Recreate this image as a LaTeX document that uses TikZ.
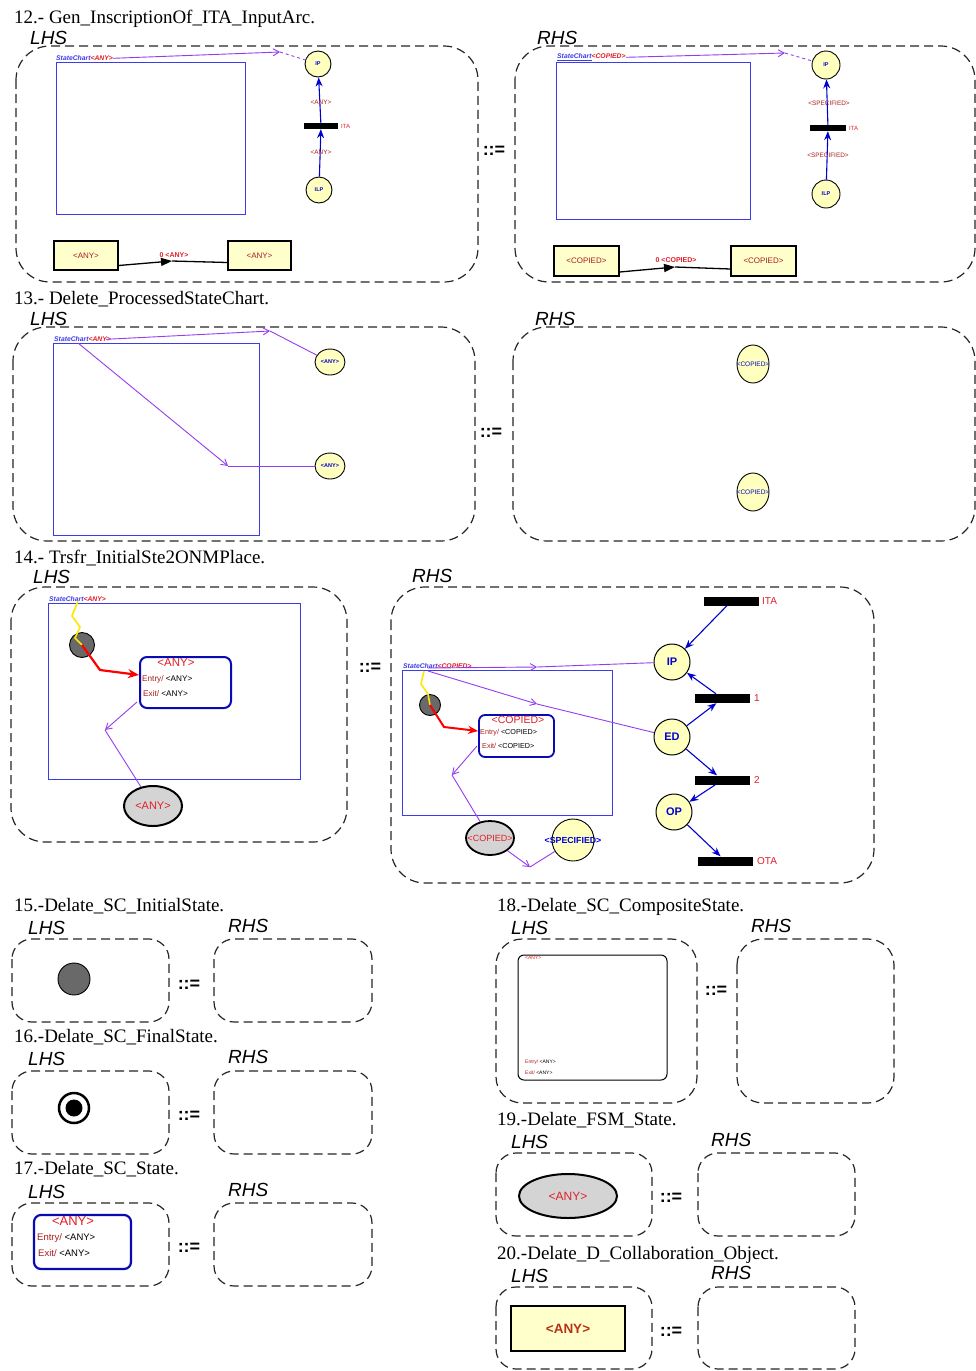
\documentclass[tikz,border=0pt]{standalone}
\usepackage{fontspec}
\setmainfont{Liberation Serif}
\setsansfont{Liberation Sans}
\usetikzlibrary{arrows.meta,shapes.geometric}

\definecolor{placefill}{RGB}{255,255,190}
\definecolor{objfill}{RGB}{255,255,204}
\definecolor{arcpurple}{RGB}{150,60,240}
\definecolor{arcblue}{RGB}{0,0,210}
\definecolor{scblue}{RGB}{60,60,235}
\definecolor{labred}{RGB}{225,30,40}
\definecolor{darkred}{RGB}{170,30,30}
\definecolor{initgray}{RGB}{105,105,105}
\definecolor{fsmgray}{RGB}{212,212,212}
\definecolor{stateblue}{RGB}{10,10,180}

\tikzset{
  x=1pt, y=-1pt,
  rulebox/.style={draw=black!85, line width=1.2pt, dash pattern=on 9pt off 5pt, rounded corners=34pt},
  smallbox/.style={draw=black!85, line width=1.2pt, dash pattern=on 9pt off 5pt, rounded corners=20pt},
  title/.style={anchor=base west, inner sep=0pt, font=\fontsize{19}{19}\selectfont\rmfamily},
  side/.style={anchor=base west, inner sep=0pt, font=\fontsize{19}{19}\selectfont\sffamily\itshape},
  produces/.style={inner sep=0pt, font=\fontsize{18}{18}\selectfont\sffamily\bfseries},
  screct/.style={draw=scblue, line width=0.9pt, inner sep=0pt},
  sclabel/.style={anchor=south west, inner sep=0pt, font=\fontsize{6.8}{7}\selectfont\sffamily\bfseries\itshape},
  place/.style={circle, draw=black, fill=placefill, line width=0.9pt, inner sep=0pt, text=arcblue,
    font=\fontsize{5.5}{6}\selectfont\sffamily\bfseries},
  bigplace/.style={circle, draw=black, fill=placefill, line width=1pt, inner sep=0pt, text=arcblue,
    font=\fontsize{11}{12}\selectfont\sffamily\bfseries, minimum size=36pt},
  tbar/.style={fill=black, inner sep=0pt},
  tinylab/.style={inner sep=0pt, font=\fontsize{6.4}{7}\selectfont\sffamily, text=darkred},
  barlab/.style={anchor=west, inner sep=0pt, font=\fontsize{10}{11}\selectfont\sffamily, text=labred},
  objbox/.style={draw=black, fill=objfill, line width=1.3pt, inner sep=0pt, text=darkred,
    font=\fontsize{8}{9}\selectfont\sffamily},
  overtext/.style={inner sep=0pt},
  purp/.style={draw=arcpurple, line width=0.9pt},
  bluearc/.style={draw=arcblue, line width=1.1pt},
  parrow/.style={-{Straight Barb[length=6pt,width=7pt]}},
  barrow/.style={-{Stealth[length=9pt,width=7pt]}},
  initstate/.style={circle, draw=black, fill=initgray, line width=0.9pt, inner sep=0pt},
  scstate/.style={draw=stateblue, line width=2pt, rounded corners=7pt, fill=white, inner sep=0pt},
  fsmstate/.style={ellipse, draw=black, fill=fsmgray, line width=2pt, inner sep=0pt},
}

\begin{document}
\begin{tikzpicture}
\useasboundingbox[fill=white] (0,0) rectangle (976,1371);

% ===================== 12 =====================
\node[title] (t12) at (14,23) {12.- Gen\_InscriptionOf\_ITA\_InputArc.};
\node[side] (l12) at (30,44) {LHS};
\node[side] (r12) at (537,44) {RHS};
\draw[rulebox] (16,46) rectangle (478,282);
\draw[rulebox] (515,46) rectangle (975,282);
\node[produces] (p12) at (494,151) {::=};

% left side
\node[screct, minimum width=189pt, minimum height=152pt] (sc12l) at (150.5,138) {};
\node[sclabel] (sc12lt) at (56,61) {\textcolor{scblue}{StateChart}\textcolor{labred}{<ANY>}};
\node[place, minimum size=26pt] (ip12l) at (318,64) {IP};
\node[tbar, minimum width=34pt, minimum height=6pt] (ita12l) at (321,126) {};
\node[barlab, font=\fontsize{6}{7}\selectfont\sffamily] (ita12lt) at (341,126) {ITA};
\node[place, minimum size=26pt] (ilp12l) at (319,190) {ILP};
\coordinate (a12l) at (280,52);
\draw[purp, parrow] (sc12lt.east) -- (a12l);
\draw[purp, dashed] (a12l) -- (ip12l);
\draw[bluearc, barrow] (ilp12l) -- (ita12l);
\draw[bluearc, barrow] (ita12l) -- (ip12l);
\node[tinylab] (w12la) at (321,102) {<ANY>};
\node[tinylab] (w12lb) at (321,152) {<ANY>};
\node[objbox, minimum width=64pt, minimum height=29pt] (o12la) at (86,255.5) {<ANY>};
\node[objbox, minimum width=63pt, minimum height=29pt] (o12lb) at (259.5,255.5) {<ANY>};
\coordinate (m12l) at (172,261);
\draw[line width=1.3pt, -{Triangle[length=11pt,width=8pt]}] ([yshift=-10pt]o12la.east) -- (m12l);
\draw[line width=1.3pt] (m12l) -- ([yshift=-7pt]o12lb.west);
\node[tinylab, text=labred, font=\fontsize{7}{8}\selectfont\sffamily\bfseries] (w12lc) at (174,255) {0 <ANY>};

% right side
\node[screct, minimum width=194pt, minimum height=157pt] (sc12r) at (653,140.5) {};
\node[sclabel] (sc12rt) at (557,61) {\textcolor{scblue}{\underline{StateChart}}\textcolor{labred}{<COPIED>}};
\node[place, minimum size=28pt] (ip12r) at (826,65) {IP};
\node[tbar, minimum width=36pt, minimum height=6pt] (ita12r) at (828,128) {};
\node[barlab, font=\fontsize{6}{7}\selectfont\sffamily] (ita12rt) at (849,128) {ITA};
\node[place, minimum size=28pt] (ilp12r) at (826,194) {ILP};
\coordinate (a12r) at (785,53);
\draw[purp, parrow] (sc12rt.east) -- (a12r);
\draw[purp, dashed] (a12r) -- (ip12r);
\draw[bluearc, barrow] (ilp12r) -- (ita12r);
\draw[bluearc, barrow] (ita12r) -- (ip12r);
\node[tinylab] (w12ra) at (829,103) {<SPECIFIED>};
\node[tinylab] (w12rb) at (828,155) {<SPECIFIED>};
\node[objbox, minimum width=65pt, minimum height=30pt] (o12ra) at (586.5,261) {<COPIED>};
\node[objbox, minimum width=65pt, minimum height=30pt] (o12rb) at (763.5,261) {<COPIED>};
\coordinate (m12r) at (675,267);
\draw[line width=1.3pt, -{Triangle[length=11pt,width=8pt]}] ([yshift=-11pt]o12ra.east) -- (m12r);
\draw[line width=1.3pt] (m12r) -- ([yshift=-8pt]o12rb.west);
\node[tinylab, text=labred, font=\fontsize{7}{8}\selectfont\sffamily\bfseries] (w12rc) at (676,260) {0 <COPIED>};

% ===================== 13 =====================
\node[title] (t13) at (14,304) {13.- Delete\_ProcessedStateChart.};
\node[side] (l13) at (30,325) {LHS};
\node[side] (r13) at (535,325) {RHS};
\draw[rulebox] (13,327) rectangle (475,541);
\draw[rulebox] (513,327) rectangle (975,541);
\node[produces] (p13) at (491,433) {::=};

\node[screct, minimum width=206pt, minimum height=192pt] (sc13) at (156,439) {};
\node[sclabel] (sc13t) at (54,342) {\textcolor{scblue}{StateChart}\textcolor{labred}{<ANY>}};
\node[place, minimum width=30pt, minimum height=26pt, ellipse] (any13a) at (330,362) {};
\node[overtext, text=arcblue, font=\fontsize{5.5}{6}\selectfont\sffamily\bfseries] at (any13a) {<ANY>};
\node[place, minimum width=30pt, minimum height=26pt, ellipse] (any13b) at (330,466) {};
\node[overtext, text=arcblue, font=\fontsize{5.5}{6}\selectfont\sffamily\bfseries] at (any13b) {<ANY>};
\coordinate (a13a) at (270,331);
\coordinate (a13b) at (228,466);
\draw[purp, parrow] ([xshift=-5pt]sc13t.east) -- (a13a);
\draw[purp] (a13a) -- (any13a);
\draw[purp, parrow] (78,343) -- (a13b);
\draw[purp] (a13b) -- (any13b);

\node[place, ellipse, minimum width=32pt, minimum height=38pt] (cp13a) at (753,364) {};
\node[overtext, text=arcblue, font=\fontsize{6.5}{7}\selectfont\sffamily] at (cp13a) {<COPIED>};
\node[place, ellipse, minimum width=32pt, minimum height=38pt] (cp13b) at (753,492) {};
\node[overtext, text=arcblue, font=\fontsize{6.5}{7}\selectfont\sffamily] at (cp13b) {<COPIED>};

% ===================== 14 =====================
\node[title] (t14) at (14,563) {14.- Trsfr\_InitialSte2ONMPlace.};
\node[side] (l14) at (33,583) {LHS};
\node[side] (r14) at (412,582) {RHS};
\draw[rulebox] (11,587) rectangle (347,842);
\draw[rulebox] (391,587) rectangle (874,883);
\node[produces] (p14) at (370,668) {::=};

% left side
\node[screct, minimum width=252pt, minimum height=176pt] (sc14l) at (174,691) {};
\node[sclabel] (sc14lt) at (49,602) {\textcolor{scblue}{StateChart}\textcolor{labred}{<ANY>}};
\node[initstate, minimum size=25pt] (in14l) at (82,645) {};
\node[scstate, minimum width=91pt, minimum height=51pt] (st14l) at (185.5,682.5) {};
\node[overtext, text=labred, font=\fontsize{11.5}{12}\selectfont\sffamily] (st14ln) at (176,663) {<ANY>};
\node[anchor=west, inner sep=0pt, font=\fontsize{8.2}{9}\selectfont\sffamily] (st14le) at (142,679)
  {\textcolor{darkred}{Entry/} <ANY>};
\node[anchor=west, inner sep=0pt, font=\fontsize{8.2}{9}\selectfont\sffamily] (st14lx) at (143,694)
  {\textcolor{darkred}{Exit/} <ANY>};
\node[fsmstate, minimum width=58pt, minimum height=40pt] (fs14l) at (153,806) {};
\node[overtext, text=labred, font=\fontsize{11}{12}\selectfont\sffamily] at (fs14l) {<ANY>};
\draw[yellow!90!orange, line width=1.6pt] (78,601) -- (72,616) -- (80,627) -- (75,638) -- (in14l.center);
\draw[red, line width=2.2pt, -{Stealth[length=11pt,width=9pt]}]
  (in14l.center) -- (100,670) -- (st14l.west |- 0,675);
\coordinate (a14l) at (105,730);
\draw[purp, parrow] (137,702) -- (a14l);
\draw[purp] (a14l) -- (fs14l);

% right side
\node[screct, minimum width=210pt, minimum height=145pt] (sc14r) at (507,742.5) {};
\node[sclabel] (sc14rt) at (403,669) {\textcolor{scblue}{StateChart}\textcolor{labred}{<COPIED>}};
\node[initstate, minimum size=21pt] (in14r) at (430,705) {};
\node[scstate, line width=1.8pt, rounded corners=6pt, minimum width=75pt, minimum height=42pt] (st14r) at (516.5,736) {};
\node[overtext, text=labred, font=\fontsize{10.5}{11}\selectfont\sffamily] (st14rn) at (518,719.5) {<COPIED>};
\node[anchor=west, inner sep=0pt, font=\fontsize{7.2}{8}\selectfont\sffamily] (st14re) at (480,733)
  {\textcolor{darkred}{Entry/} <COPIED>};
\node[anchor=west, inner sep=0pt, font=\fontsize{7.2}{8}\selectfont\sffamily] (st14rx) at (482,745.5)
  {\textcolor{darkred}{Exit/} <COPIED>};
\node[fsmstate, line width=1.8pt, minimum width=48pt, minimum height=34pt] (fs14r) at (490,838) {};
\node[overtext, text=labred, font=\fontsize{9}{10}\selectfont\sffamily] at (fs14r) {<COPIED>};
\node[place, minimum size=42pt] (sp14) at (573,840) {};
\node[overtext, text=arcblue, font=\fontsize{8.8}{9}\selectfont\sffamily\bfseries] at (sp14) {<SPECIFIED>};
\draw[yellow!90!orange, line width=1.6pt] (424,671) -- (421,684) -- (428,694) -- (in14r.center);
\draw[red, line width=2pt, -{Stealth[length=10pt,width=8pt]}]
  (in14r.center) -- (444,727) -- (st14r.west |- 0,731);
\coordinate (a14ra) at (452,775);
\draw[purp, parrow] (477,746) -- (a14ra);
\draw[purp] (a14ra) -- (fs14r);
\coordinate (a14rb) at (530,867);
\draw[purp, parrow] (fs14r) -- (a14rb);
\draw[purp] (a14rb) -- (sp14);

% net places and transitions
\node[bigplace] (ip14) at (672,662) {IP};
\node[bigplace] (ed14) at (672,737) {ED};
\node[bigplace] (op14) at (674,812) {OP};
\node[tbar, minimum width=55pt, minimum height=9pt] (ita14) at (731.5,601) {};
\node[tbar, minimum width=55pt, minimum height=9pt] (t114) at (722.5,698.5) {};
\node[tbar, minimum width=55pt, minimum height=9pt] (t214) at (722.5,780) {};
\node[tbar, minimum width=55pt, minimum height=9pt] (ota14) at (725.5,861) {};
\node[barlab] (ita14t) at (762,601) {ITA};
\node[barlab] (t114t) at (754,698) {1};
\node[barlab] (t214t) at (754,780) {2};
\node[barlab] (ota14t) at (757,861) {OTA};
\coordinate (a14rc) at (537,667);
\coordinate (a14rd) at (537,704);
\draw[purp, parrow] (428,668) -- (a14rc);
\draw[purp] (a14rc) -- (ip14);
\draw[purp, parrow] (428,671) -- (a14rd);
\draw[purp] (a14rd) -- (ed14);
\draw[bluearc, barrow] (ita14) -- (ip14);
\draw[bluearc, barrow] (t114) -- (ip14);
\draw[bluearc, barrow] (ed14) -- (t114);
\draw[bluearc, barrow] (ed14) -- (t214);
\draw[bluearc, barrow] (t214) -- (op14);
\draw[bluearc, barrow] (op14) -- (ota14);

% ===================== 15 =====================
\node[title] (t15) at (14,911) {15.-Delate\_SC\_InitialState.};
\node[side] (l15) at (28,934) {LHS};
\node[side] (r15) at (228,932) {RHS};
\draw[smallbox] (12,939) rectangle (169,1022);
\draw[smallbox] (214,939) rectangle (372,1022);
\node[produces] (p15) at (189,985) {::=};
\node[initstate, minimum size=32pt] (in15) at (74,979) {};

% ===================== 16 =====================
\node[title] (t16) at (14,1042) {16.-Delate\_SC\_FinalState.};
\node[side] (l16) at (28,1065) {LHS};
\node[side] (r16) at (228,1063) {RHS};
\draw[smallbox] (12,1071) rectangle (169,1154);
\draw[smallbox] (214,1071) rectangle (372,1154);
\node[produces] (p16) at (189,1116) {::=};
\node[circle, draw=black, line width=2.5pt, fill=white, minimum size=30pt, inner sep=0pt] (fo16) at (74,1108) {};
\node[circle, fill=black, minimum size=17pt, inner sep=0pt] (fi16) at (fo16.center) {};

% ===================== 17 =====================
\node[title] (t17) at (14,1174) {17.-Delate\_SC\_State.};
\node[side] (l17) at (28,1198) {LHS};
\node[side] (r17) at (228,1196) {RHS};
\draw[smallbox] (12,1203) rectangle (169,1286);
\draw[smallbox] (214,1203) rectangle (372,1286);
\node[produces] (p17) at (189,1248) {::=};
\node[scstate, line width=2.2pt, minimum width=97pt, minimum height=54pt] (st17) at (82.5,1242) {};
\node[overtext, text=labred, font=\fontsize{13}{14}\selectfont\sffamily] (st17n) at (73,1221) {<ANY>};
\node[anchor=west, inner sep=0pt, font=\fontsize{9.5}{10}\selectfont\sffamily] (st17e) at (37,1238)
  {\textcolor{darkred}{Entry/} <ANY>};
\node[anchor=west, inner sep=0pt, font=\fontsize{9.5}{10}\selectfont\sffamily] (st17x) at (38,1253)
  {\textcolor{darkred}{Exit/} <ANY>};

% ===================== 18 =====================
\node[title] (t18) at (497,911) {18.-Delate\_SC\_CompositeState.};
\node[side] (l18) at (511,934) {LHS};
\node[side] (r18) at (751,932) {RHS};
\draw[rulebox, rounded corners=26pt] (496,939) rectangle (697,1103);
\draw[rulebox, rounded corners=26pt] (737,939) rectangle (894,1103);
\node[produces] (p18) at (716,991) {::=};
\node[draw=black, line width=1pt, rounded corners=6pt, minimum width=149pt, minimum height=125pt, inner sep=0pt] (cs18) at (592.5,1017.5) {};
\node[anchor=west, inner sep=0pt, text=labred, font=\fontsize{5}{6}\selectfont\sffamily] (cs18n) at (525,958) {<ANY>};
\node[anchor=west, inner sep=0pt, font=\fontsize{5}{6}\selectfont\sffamily] (cs18e) at (525,1062)
  {\textcolor{darkred}{Entry/} <ANY>};
\node[anchor=west, inner sep=0pt, font=\fontsize{5}{6}\selectfont\sffamily] (cs18x) at (525,1073)
  {\textcolor{darkred}{Exit/} <ANY>};

% ===================== 19 =====================
\node[title] (t19) at (497,1125) {19.-Delate\_FSM\_State.};
\node[side] (l19) at (511,1148) {LHS};
\node[side] (r19) at (711,1146) {RHS};
\draw[smallbox] (496,1153) rectangle (652,1236);
\draw[smallbox] (698,1153) rectangle (855,1236);
\node[produces] (p19) at (671,1198) {::=};
\node[fsmstate, minimum width=98pt, minimum height=44pt] (fs19) at (568,1196) {};
\node[overtext, text=labred, font=\fontsize{12}{13}\selectfont\sffamily] at (fs19) {<ANY>};

% ===================== 20 =====================
\node[title] (t20) at (497,1259) {20.-Delate\_D\_Collaboration\_Object.};
\node[side] (l20) at (511,1282) {LHS};
\node[side] (r20) at (711,1279) {RHS};
\draw[smallbox] (496,1287) rectangle (652,1369);
\draw[smallbox] (698,1287) rectangle (855,1369);
\node[produces] (p20) at (671,1332) {::=};
\node[objbox, line width=2.2pt, minimum width=114pt, minimum height=45pt, font=\fontsize{13.5}{14}\selectfont\sffamily\bfseries,
  text=darkred!80!orange] (o20) at (568,1328.5) {<ANY>};

\end{tikzpicture}
\end{document}
